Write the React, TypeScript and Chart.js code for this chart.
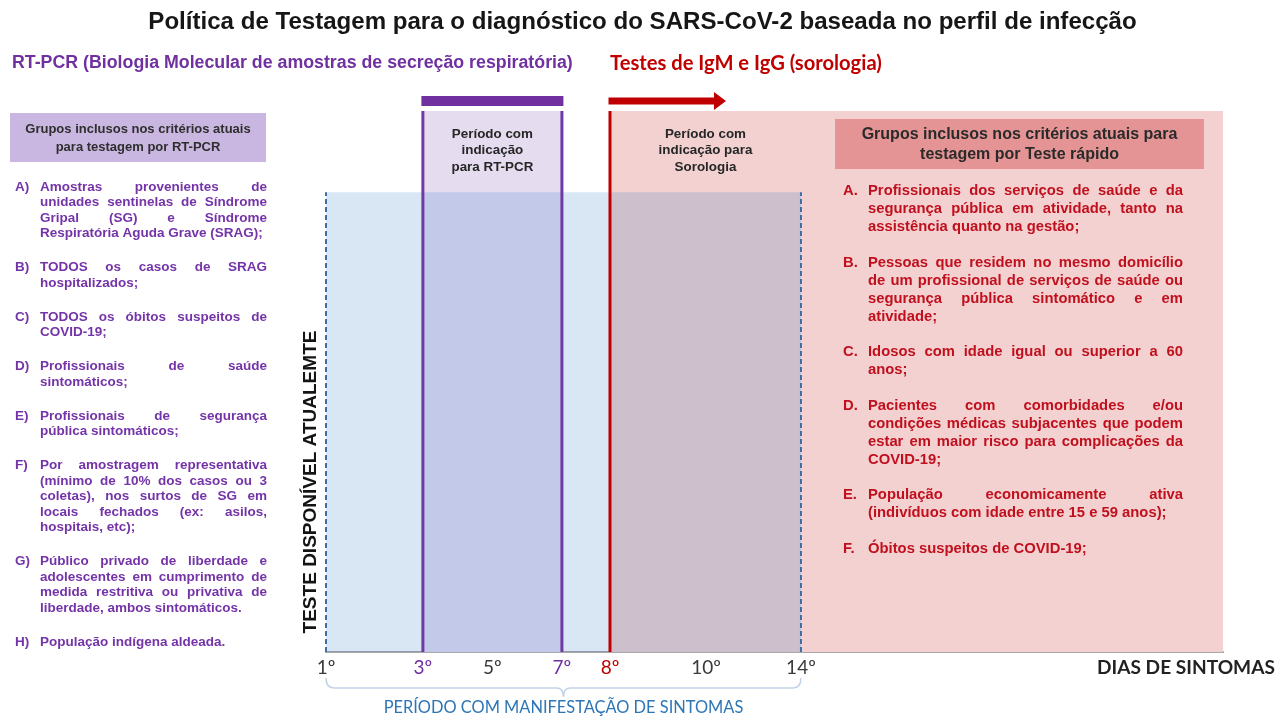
import React, { useEffect, useRef } from 'react';
import { Chart, registerables, LinearScale } from 'chart.js';

// ---------------- data ----------------
const chartTitle = 'Política de Testagem para o diagnóstico do SARS-CoV-2 baseada no perfil de infecção';
const rtpcrHeading = 'RT-PCR (Biologia Molecular de amostras de secreção respiratória)';
const serologyHeading = 'Testes de IgM e IgG (sorologia)';
const xAxisTitle = 'DIAS DE SINTOMAS';
const yAxisTitle = 'TESTE DISPONÍVEL ATUALEMTE';

const dayTicks = [1, 3, 5, 7, 8, 10, 14];
const dayTickLabels = ['1º', '3º', '5º', '7º', '8º', '10º', '14º'];
const axisFirstDay = 1;
const axisLastDay = 25;

const periodNames = [
  ['PERÍODO COM MANIFESTAÇÃO DE SINTOMAS'],
  ['Período com', 'indicação', 'para RT-PCR'],
  ['Período com', 'indicação para', 'Sorologia'],
];
const periodStartDay = [1, 3, 8];
const periodEndDay = [14, 7, 25];
const periodLevel = [0.85, 1, 1];

const rtpcrBoxTitle = ['Grupos inclusos nos critérios atuais', 'para testagem por RT-PCR'];
const rtpcrLabels = ['A)', 'B)', 'C)', 'D)', 'E)', 'F)', 'G)', 'H)'];
const rtpcrGroups = [
  ['Amostras provenientes de', 'unidades sentinelas de Síndrome', 'Gripal (SG) e Síndrome', 'Respiratória Aguda Grave (SRAG);'],
  ['TODOS os casos de SRAG', 'hospitalizados;'],
  ['TODOS os óbitos suspeitos de', 'COVID-19;'],
  ['Profissionais de saúde', 'sintomáticos;'],
  ['Profissionais de segurança', 'pública sintomáticos;'],
  ['Por amostragem representativa', '(mínimo de 10% dos casos ou 3', 'coletas), nos surtos de SG em', 'locais fechados (ex: asilos,', 'hospitais, etc);'],
  ['Público privado de liberdade e', 'adolescentes em cumprimento de', 'medida restritiva ou privativa de', 'liberdade, ambos sintomáticos.'],
  ['População indígena aldeada.'],
];

const rapidBoxTitle = ['Grupos inclusos nos critérios atuais para', 'testagem por Teste rápido'];
const rapidLabels = ['A.', 'B.', 'C.', 'D.', 'E.', 'F.'];
const rapidGroups = [
  ['Profissionais dos serviços de saúde e da', 'segurança pública em atividade, tanto na', 'assistência quanto na gestão;'],
  ['Pessoas que residem no mesmo domicílio', 'de um profissional de serviços de saúde ou', 'segurança pública sintomático e em', 'atividade;'],
  ['Idosos com idade igual ou superior a 60', 'anos;'],
  ['Pacientes com comorbidades e/ou', 'condições médicas subjacentes que podem', 'estar em maior risco para complicações da', 'COVID-19;'],
  ['População economicamente ativa', '(indivíduos com idade entre 15 e 59 anos);'],
  ['Óbitos suspeitos de COVID-19;'],
];

// ---------------- styles ----------------
const SANS = '"Liberation Sans", Arial, sans-serif';
const CAL = 'Lato, "Open Sans", sans-serif';
const PURPLE = '#7030a0';
const RED = '#c00000';
const BLUE = '#2e75b6';
const periodFill = ['rgba(0,95,188,0.15)', '#e6dcf0', '#f3d1d1'];
const periodEdgeColor = ['#3c6fa8', '#6f3aa6', '#c00000'];
const periodEdgeDash = [[5, 3], [], []];
const periodEdgeWidth = [2, 3, 3];
const periodOrder = [4, 5, 6];
const tickColors = ['#3a3a3a', PURPLE, '#3a3a3a', PURPLE, RED, '#3a3a3a', '#3a3a3a'];

// schematic (non-uniform) spacing of the hand-drawn day axis: [day, fraction of axis length]
const axisStops: number[][] = [
  [1, 0], [3, 0.108], [7, 0.263], [8, 0.3166], [10, 0.4236], [14, 0.5295], [25, 1],
];

class SchematicScale extends LinearScale {
  static id = 'schematic';
  static defaults = LinearScale.defaults;
  _frac(value: number) {
    const s = axisStops;
    if (value <= s[0][0]) return s[0][1];
    for (let i = 1; i < s.length; i++) {
      const [v0, f0] = s[i - 1];
      const [v1, f1] = s[i];
      if (value <= v1) return f0 + ((value - v0) / (v1 - v0)) * (f1 - f0);
    }
    return s[s.length - 1][1];
  }
  getPixelForValue(value: any) {
    if (value === null || value === undefined || isNaN(value)) return NaN;
    return this.getPixelForDecimal(this._frac(+value));
  }
  getValueForPixel(pixel: number) {
    const d = this.getDecimalForPixel(pixel);
    const s = axisStops;
    for (let i = 1; i < s.length; i++) {
      const [v0, f0] = s[i - 1];
      const [v1, f1] = s[i];
      if (d <= f1) return v0 + ((d - f0) / (f1 - f0)) * (v1 - v0);
    }
    return s[s.length - 1][0];
  }
}

Chart.register(...registerables, SchematicScale as any);

function fitSize(ctx: CanvasRenderingContext2D, text: string, weight: string, family: string, width: number) {
  ctx.font = `${weight} 100px ${family}`;
  return (100 * width) / ctx.measureText(text).width;
}

function drawJustified(ctx: CanvasRenderingContext2D, line: string, x: number, y: number, width: number, justify: boolean) {
  const words = line.split(' ');
  if (!justify || words.length < 2) {
    ctx.textAlign = 'left';
    ctx.fillText(line, x, y);
    return;
  }
  const widths = words.map((w) => ctx.measureText(w).width);
  const total = widths.reduce((a, b) => a + b, 0);
  const gap = (width - total) / (words.length - 1);
  let cx = x;
  ctx.textAlign = 'left';
  words.forEach((w, i) => {
    ctx.fillText(w, cx, y);
    cx += widths[i] + gap;
  });
}

function drawList(
  ctx: CanvasRenderingContext2D,
  labels: string[],
  groups: string[][],
  o: { labelX: number; textX: number; right: number; top: number; lineH: number; paraStep: number; font: string; color: string }
) {
  ctx.font = o.font;
  ctx.fillStyle = o.color;
  ctx.textBaseline = 'middle';
  let y = o.top;
  groups.forEach((lines, gi) => {
    ctx.textAlign = 'left';
    ctx.fillText(labels[gi], o.labelX, y);
    lines.forEach((ln, li) => {
      drawJustified(ctx, ln, o.textX, y, o.right - o.textX, li < lines.length - 1);
      if (li < lines.length - 1) y += o.lineH;
    });
    y += o.paraStep;
  });
}

const infographicPlugin = {
  id: 'infographic',
  afterDatasetsDraw(chart: any) {
    const ctx: CanvasRenderingContext2D = chart.ctx;
    const xs = chart.scales.x;
    const X = (d: number) => xs.getPixelForValue(d);
    const area = chart.chartArea;
    ctx.save();
    ctx.textBaseline = 'middle';

    // title
    let fs = fitSize(ctx, chartTitle, 'bold', SANS, 989);
    ctx.font = `bold ${fs}px ${SANS}`;
    ctx.fillStyle = '#161616';
    ctx.textAlign = 'center';
    ctx.fillText(chartTitle, 642.5, 22);

    // sub headings
    fs = fitSize(ctx, rtpcrHeading, 'bold', SANS, 561);
    ctx.font = `bold ${fs}px ${SANS}`;
    ctx.fillStyle = PURPLE;
    ctx.textAlign = 'left';
    ctx.fillText(rtpcrHeading, 12, 63);
    fs = fitSize(ctx, serologyHeading, 'bold', CAL, 272);
    ctx.font = `bold ${fs}px ${CAL}`;
    ctx.fillStyle = RED;
    ctx.fillText(serologyHeading, X(periodStartDay[2]), 63);

    // indicator bar above RT-PCR period and arrow above serology period
    const r0 = X(periodStartDay[1]);
    const r1 = X(periodEndDay[1]);
    ctx.fillStyle = PURPLE;
    ctx.fillRect(r0 - 1.5, area.top - 15, r1 - r0 + 3, 10);
    const s0 = X(periodStartDay[2]);
    ctx.fillStyle = RED;
    ctx.fillRect(s0 - 1.5, area.top - 13.5, 106.5, 7);
    ctx.beginPath();
    ctx.moveTo(s0 + 104, area.top - 19);
    ctx.lineTo(s0 + 116, area.top - 10);
    ctx.lineTo(s0 + 104, area.top - 1);
    ctx.closePath();
    ctx.fill();

    // period captions
    ctx.font = `bold 13.4px ${SANS}`;
    ctx.fillStyle = '#262626';
    ctx.textAlign = 'center';
    const cap = periodEndDay[0];
    [1, 2].forEach((p) => {
      const cx = (X(periodStartDay[p]) + X(Math.min(periodEndDay[p], cap))) / 2;
      periodNames[p].forEach((ln, i) => ctx.fillText(ln, cx, area.top + 23 + i * 16.5));
    });

    // left header box
    ctx.fillStyle = '#cab7e1';
    ctx.fillRect(10, 113, 256, 49);
    ctx.font = `bold 13px ${SANS}`;
    ctx.fillStyle = '#2e2e2e';
    ctx.textAlign = 'center';
    rtpcrBoxTitle.forEach((ln, i) => ctx.fillText(ln, 138, 129 + i * 18));

    // right header box
    ctx.fillStyle = '#e49494';
    ctx.fillRect(835, 119, 369, 50);
    ctx.font = `bold 16px ${SANS}`;
    ctx.fillStyle = '#2a2a2a';
    rapidBoxTitle.forEach((ln, i) => ctx.fillText(ln, 1019.5, 135 + i * 20));

    // lists
    drawList(ctx, rtpcrLabels, rtpcrGroups, {
      labelX: 15, textX: 40, right: 267, top: 187, lineH: 15.5, paraStep: 34,
      font: `bold 13.5px ${SANS}`, color: '#7434a8',
    });
    drawList(ctx, rapidLabels, rapidGroups, {
      labelX: 843, textX: 868, right: 1183, top: 191, lineH: 18, paraStep: 35.5,
      font: `bold 14.8px ${SANS}`, color: '#c0101e',
    });

    // vertical axis caption
    fs = fitSize(ctx, yAxisTitle, 'bold', SANS, 303);
    ctx.save();
    ctx.translate(311, 482);
    ctx.rotate(-Math.PI / 2);
    ctx.font = `bold ${fs}px ${SANS}`;
    ctx.fillStyle = '#141414';
    ctx.textAlign = 'center';
    ctx.fillText(yAxisTitle, 0, 0);
    ctx.restore();

    // x axis caption
    fs = fitSize(ctx, xAxisTitle, 'bold', CAL, 178);
    ctx.font = `bold ${fs}px ${CAL}`;
    ctx.fillStyle = '#222';
    ctx.textAlign = 'left';
    ctx.fillText(xAxisTitle, 1097, 668);

    // bracket for symptom period
    const b0 = X(periodStartDay[0]);
    const b1 = X(periodEndDay[0]);
    const bm = (b0 + b1) / 2;
    const yb = 688;
    ctx.strokeStyle = '#c2d3e9';
    ctx.lineWidth = 1.6;
    ctx.beginPath();
    ctx.moveTo(b0, yb - 10);
    ctx.quadraticCurveTo(b0, yb, b0 + 8, yb);
    ctx.lineTo(bm - 7, yb);
    ctx.quadraticCurveTo(bm, yb, bm, yb + 9);
    ctx.quadraticCurveTo(bm, yb, bm + 7, yb);
    ctx.lineTo(b1 - 8, yb);
    ctx.quadraticCurveTo(b1, yb, b1, yb - 10);
    ctx.stroke();
    const sym = periodNames[0][0];
    fs = fitSize(ctx, sym, 'normal', CAL, 360);
    ctx.font = `${fs}px ${CAL}`;
    ctx.fillStyle = BLUE;
    ctx.textAlign = 'center';
    ctx.fillText(sym, bm, 708);

    ctx.restore();
  },
};

function buildDatasets() {
  const sets: any[] = [];
  periodStartDay.forEach((start, i) => {
    const end = periodEndDay[i];
    sets.push({
      label: periodNames[i].join(' '),
      data: [{ x: start, y: periodLevel[i] }, { x: end, y: periodLevel[i] }],
      fill: 'origin',
      backgroundColor: periodFill[i],
      borderWidth: 0,
      pointRadius: 0,
      order: periodOrder[i],
    });
  });
  periodStartDay.forEach((start, i) => {
    const edges = [start, periodEndDay[i]].filter((d) => d > axisFirstDay - 1 && d < axisLastDay);
    edges.forEach((d) => {
      sets.push({
        label: `${periodNames[i].join(' ')} – ${d}`,
        data: [{ x: d, y: 0 }, { x: d, y: periodLevel[i] }],
        fill: false,
        borderColor: periodEdgeColor[i],
        borderDash: periodEdgeDash[i],
        borderWidth: periodEdgeWidth[i],
        pointRadius: 0,
        order: 1,
      });
    });
  });
  return sets;
}

export default function App() {
  const ref = useRef<HTMLCanvasElement>(null);
  useEffect(() => {
    const chart = new Chart(ref.current as HTMLCanvasElement, {
      type: 'line',
      data: { datasets: buildDatasets() },
      options: {
        responsive: false,
        animation: false,
        devicePixelRatio: 1,
        clip: false as any,
        layout: { padding: { left: 326, right: 63, top: 111, bottom: 30 } },
        plugins: { legend: { display: false }, tooltip: { enabled: false }, title: { display: false } },
        elements: { line: { tension: 0 } },
        scales: {
          x: {
            type: 'schematic' as any,
            min: axisFirstDay,
            max: axisLastDay,
            grid: { display: false, drawTicks: false },
            border: { display: true, color: '#a8a8a8', width: 2 },
            ticks: {
              autoSkip: false,
              maxRotation: 0,
              padding: 4,
              font: { family: 'Lato', size: 19 },
              color: (c: any) => tickColors[c.index] || '#3a3a3a',
              callback: (_v: any, i: number) => dayTickLabels[i],
            },
            afterBuildTicks: (s: any) => {
              s.ticks = dayTicks.map((v) => ({ value: v }));
            },
            afterFit: (s: any) => {
              s.height = 40;
            },
          } as any,
          y: { type: 'linear', min: 0, max: 1, display: false },
        },
      },
      plugins: [infographicPlugin],
    });
    return () => chart.destroy();
  }, []);
  return (
    <div style={{ position: 'absolute', left: 0, top: 0, width: 1286, height: 722, background: '#fff' }}>
      <canvas ref={ref} width={1286} height={722} style={{ display: 'block', width: 1286, height: 722 }} />
    </div>
  );
}
